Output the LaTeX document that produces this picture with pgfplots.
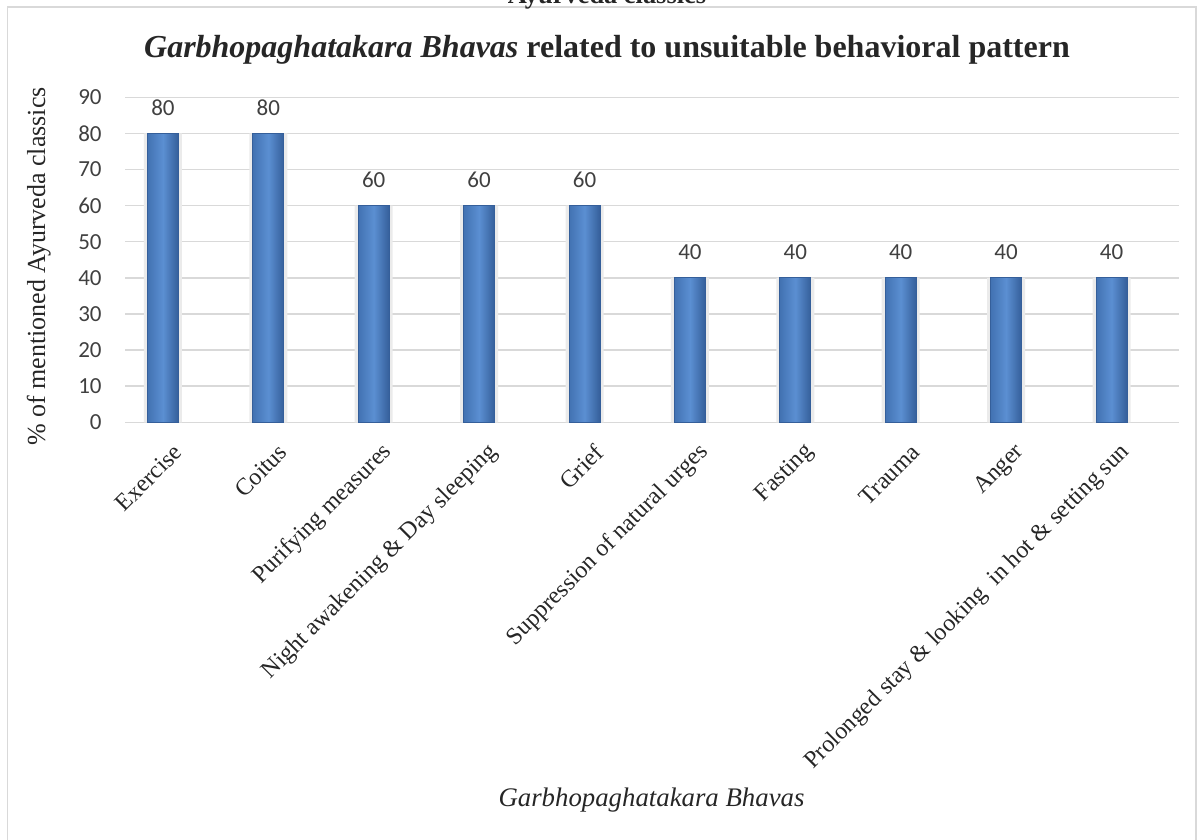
\documentclass[border=0pt]{standalone}
\usepackage{fontspec}
\setmainfont{Liberation Serif}
\newfontfamily\calibri{Carlito}
\usepackage{pgfplots}
\pgfplotsset{compat=1.18}
\definecolor{gridc}{HTML}{D9D9D9}
\definecolor{barmid}{HTML}{5B8FD2}
\definecolor{barleft}{HTML}{4272B2}
\definecolor{baredge}{HTML}{355F9A}
\definecolor{lblc}{HTML}{404040}
\definecolor{txtc}{HTML}{262626}
\pgfplotsset{
  bluebar/.style={ybar, bar width=15.5pt, bar shift=0pt, draw=baredge, line width=0.4pt,
    left color=barleft, right color=baredge, middle color=barmid,
    nodes near coords,
    nodes near coords style={font=\calibri\fontsize{11.5}{13}\selectfont, text=lblc, anchor=base, yshift=9pt}},
  shadowbar/.style={ybar, bar width=19pt, bar shift=0pt, fill=black!8, draw=none, forget plot},
}
\begin{document}
\begin{tikzpicture}[x=1pt,y=1pt]
\useasboundingbox (0,0) rectangle (599.5,420);
\clip (0,0) rectangle (599.5,420);
\draw[gridc, line width=0.7pt] (3.8,416.5) rectangle (598,-5);
\node[font=\bfseries\fontsize{13.2}{15}\selectfont, text=txtc, anchor=base] at (303.5,418) {Ayurveda classics};
\node[font=\bfseries\fontsize{16}{19}\selectfont, text=txtc, anchor=base] at (303.5,391) {\textit{Garbhopaghatakara Bhavas} related to unsuitable behavioral pattern};
\node[font=\fontsize{13}{15}\selectfont, text=txtc, rotate=90, anchor=base] at (22.5,286.75) {\% of mentioned Ayurveda classics};
\node[font=\itshape\fontsize{13.4}{16}\selectfont, text=txtc, anchor=base] at (325.75,16.5) {Garbhopaghatakara Bhavas};
\begin{axis}[
  at={(62.5pt,208.85pt)}, anchor=south west,
  scale only axis, width=527pt, height=162.55pt,
  xmin=-0.36, xmax=9.64, ymin=0, ymax=90,
  ytick={0,10,...,90},
  xtick={0,...,9},
  xticklabels={Exercise, Coitus, Purifying measures, Night awakening \& Day sleeping, Grief, Suppression of natural urges, Fasting, Trauma, Anger, Prolonged stay \& looking\ \ in hot \& setting sun},
  axis line style={draw=none},
  major tick length=0pt,
  ymajorgrids,
  major grid style={gridc, line width=0.7pt},
  /pgf/number format/assume math mode=true,
  yticklabel style={font=\calibri\fontsize{11.5}{13}\selectfont, text=lblc, inner sep=0pt, anchor=east, xshift=-11.5pt},
  xticklabel style={font=\fontsize{12}{14}\selectfont, text=txtc, inner sep=0pt, xshift=7.5pt, yshift=-13pt, rotate=45, anchor=east},
  clip=false,
]
\addplot[shadowbar] coordinates {
(0,80) (1,80) (2,60) (3,60) (4,60) (5,40) (6,40) (7,40) (8,40) (9,40)};
\addplot[bluebar] coordinates {(0,80)};
\addplot[bluebar] coordinates {(1,80)};
\addplot[bluebar] coordinates {(2,60)};
\addplot[bluebar] coordinates {(3,60)};
\addplot[bluebar] coordinates {(4,60)};
\addplot[bluebar] coordinates {(5,40)};
\addplot[bluebar] coordinates {(6,40)};
\addplot[bluebar] coordinates {(7,40)};
\addplot[bluebar] coordinates {(8,40)};
\addplot[bluebar] coordinates {(9,40)};
\end{axis}
\end{tikzpicture}
\end{document}
